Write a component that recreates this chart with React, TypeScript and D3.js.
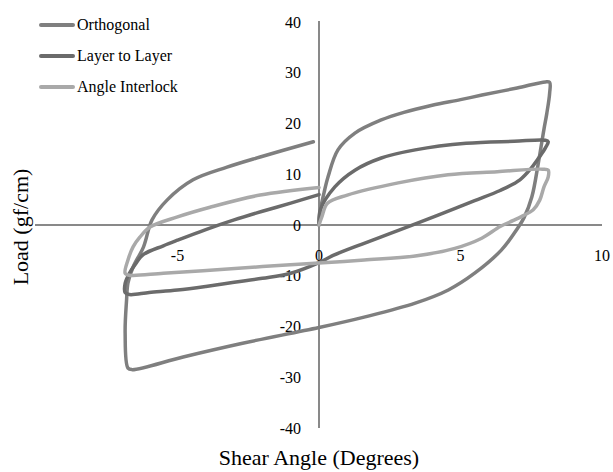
import React from "react";
import * as d3 from "d3";

const seriesNames = ["Orthogonal", "Layer to Layer", "Angle Interlock"];
const seriesColors = ["#7f7f7f", "#6b6b6b", "#a9a9a9"];

const orthogonal: [number, number][] = [
  [0, 0], [0.05, 3], [0.2, 6.9], [0.32, 9.5], [0.67, 14.8], [1.27, 18.1], [2.2, 20.7], [3, 22.2],
  [4.0, 23.6], [5, 24.7], [5.76, 25.6], [7, 27], [8.0, 28.2], [8.15, 28.1], [8.15, 26], [8.05, 22],
  [7.95, 18.9], [7.75, 12.2], [7.52, 5.5], [7.25, 1.5], [7.0, -0.8], [6.45, -4.9], [5.5, -9.5],
  [4.57, -12.8], [3.4, -15.4], [1.63, -18.1], [0, -20.2], [-2.7, -23.3], [-4.8, -26], [-6.6, -28.5],
  [-6.75, -28.2], [-6.85, -21.3], [-6.8, -14.8], [-6.75, -11.4], [-6.57, -8.3], [-6.2, -4.3],
  [-5.9, 1], [-5.37, 4.9], [-4.45, 8.9], [-3.25, 11.4], [-2.08, 13.4], [-0.2, 16.4],
];

const layerToLayer: [number, number][] = [
  [0, 0], [0.05, 3], [0.56, 7.5], [1.27, 10.8], [2.2, 13.2], [3.4, 14.8], [5.2, 16.1], [6.9, 16.5],
  [8.0, 16.7], [8.1, 16.4], [8.0, 15.2], [7.8, 13.5], [7.5, 11.2], [7.1, 8.9], [6.4, 6.8], [5.5, 4.8],
  [4.5, 2.6], [3.5, 0.4], [2.5, -1.7], [1.5, -3.8], [0.5, -6.0], [0, -7.4], [-1, -9.5], [-2, -10.5],
  [-3, -11.3], [-4, -12.1], [-5, -12.8], [-6, -13.3], [-6.7, -13.7], [-6.85, -13.3], [-6.85, -11.5],
  [-6.7, -9.5], [-6.5, -7.8], [-6.2, -5.8], [-5.5, -4.1], [-5, -3], [-4, -0.9], [-3, 1], [-2, 2.7],
  [-1, 4.3], [0, 6],
];

const angleInterlock: [number, number][] = [
  [0, 0], [0.1, 1.6], [0.3, 4.3], [1.0, 5.9], [2.8, 8.3], [4.56, 9.9], [6.3, 10.5], [7.9, 11],
  [8.1, 10.8], [8.1, 9.5], [7.95, 7.5], [7.8, 4.9], [7.57, 3], [7.2, 1.8], [6.87, 0.9], [6.4, -0.3],
  [5.75, -2.6], [4.8, -4.6], [3.4, -6.1], [1.6, -6.9], [0, -7.5], [-2, -8.2], [-3.85, -8.9],
  [-5.5, -9.5], [-6.7, -9.9], [-6.85, -9.5], [-6.75, -6.9], [-6.57, -4.3], [-6.33, -2.4],
  [-5.97, -0.4], [-5, 1.6], [-3.85, 3.5], [-2.08, 5.9], [0, 7.4],
];

const xTicks = [-5, 0, 5, 10];
const yTicks = [-40, -30, -20, -10, 0, 10, 20, 30, 40];

const W = 613;
const H = 472;
const FONT = "'Liberation Serif', 'Times New Roman', serif";

export default function App() {
  const x = d3.scaleLinear().domain([-10, 10]).range([36, 602]);
  const y = d3.scaleLinear().domain([-40, 40]).range([428, 22]);
  const line = d3
    .line<[number, number]>()
    .x((d) => x(d[0]))
    .y((d) => y(d[1]))
    .curve(d3.curveCatmullRom.alpha(0.5));
  const data = [orthogonal, layerToLayer, angleInterlock];
  const axisColor = "#898989";

  return (
    <svg
      width={W}
      height={H}
      style={{ position: "absolute", left: 0, top: 0, background: "#fff" }}
      fontFamily={FONT}
    >
      <rect x={0} y={0} width={W} height={H} fill="#fff" />
      <line x1={x(-10) - 1} x2={x(10)} y1={y(0)} y2={y(0)} stroke={axisColor} strokeWidth={2} />
      <line x1={x(0)} x2={x(0)} y1={y(40) - 1} y2={y(-40)} stroke={axisColor} strokeWidth={2} />
      {yTicks.map((t) => (
        <text key={"y" + t} x={301} y={y(t) + 5.5} textAnchor="end" fontSize={16} fill="#000">
          {t}
        </text>
      ))}
      {xTicks.map((t) => (
        <text key={"x" + t} x={x(t)} y={y(0) + 36} textAnchor="middle" fontSize={16} fill="#000">
          {t}
        </text>
      ))}
      {data.map((d, i) => (
        <path
          key={seriesNames[i]}
          d={line(d) || ""}
          fill="none"
          stroke={seriesColors[i]}
          strokeWidth={3.5}
          strokeLinejoin="round"
          strokeLinecap="round"
        />
      ))}
      {seriesNames.map((n, i) => {
        const ly = 25 + i * 31;
        return (
          <g key={"lg" + n}>
            <line x1={41} x2={73} y1={ly} y2={ly} stroke={seriesColors[i]} strokeWidth={4} strokeLinecap="round" />
            <text x={77} y={ly + 5} fontSize={16} fill="#000">
              {n}
            </text>
          </g>
        );
      })}
      <text x={319} y={465} textAnchor="middle" fontSize={22} fill="#000">
        Shear Angle (Degrees)
      </text>
      <text transform={`translate(28, 227) rotate(-90)`} textAnchor="middle" fontSize={22} fill="#000">
        Load (gf/cm)
      </text>
    </svg>
  );
}
